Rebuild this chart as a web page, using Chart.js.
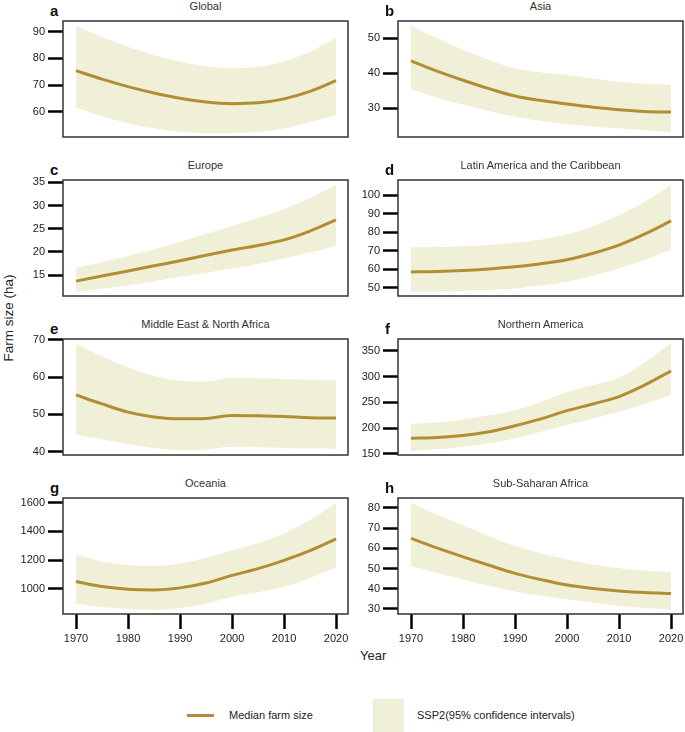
<!DOCTYPE html>
<html lang="en">
<head>
<meta charset="UTF-8" />
<title>Farm size by region</title>
<script src="https://cdn.jsdelivr.net/npm/chart.js"></script>
<style>
  body { margin: 0; background: #fff; font-family: "Liberation Sans", Arial, sans-serif; }
  #page { position: relative; width: 685px; height: 732px; overflow: hidden; }
  .panel { position: absolute; }
  .title { position: absolute; width: 285px; text-align: center; font-size: 11px; line-height: 13px; color: #333; }
  .letter { position: absolute; font-size: 15px; line-height: 15px; font-weight: bold; color: #111; }
  #ylabel { position: absolute; left: 8px; top: 318px; font-size: 13.5px; color: #222;
            transform: translate(-50%, -50%) rotate(-90deg); white-space: nowrap; }
  #xlabel { position: absolute; left: 360px; top: 648px; font-size: 13px; color: #222; }
  .legtext { position: absolute; font-size: 11px; line-height: 13px; color: #222; white-space: nowrap; }
</style>
</head>
<body>
<div id="page">
  <div id="ylabel">Farm size (ha)</div>
  <div id="xlabel">Year</div>
  <div style="position:absolute; left:187px; top:713.5px; width:27px; height:3px; background:#b08e34"></div>
  <div class="legtext" style="left:229px; top:708.5px">Median farm size</div>
  <div style="position:absolute; left:373px; top:699px; width:31px; height:33px; background:#f0f0d8"></div>
  <div class="legtext" style="left:417px; top:708.5px">SSP2(95% confidence intervals)</div>
</div>

<script>
    // Data
    const years = [1970, 1975, 1980, 1985, 1990, 1995, 2000, 2005, 2010, 2015, 2020];
    const yearTicks = [1970, 1980, 1990, 2000, 2010, 2020];

    const globalMedian = [75.4, 72.2, 69.4, 67.0, 65.0, 63.6, 63.0, 63.3, 64.8, 67.6, 71.6];
    const globalUpper  = [92.1, 88.0, 84.3, 81.2, 78.8, 77.0, 76.3, 76.8, 78.8, 82.5, 87.5];
    const globalLower  = [61.6, 58.3, 55.7, 53.8, 52.5, 52.0, 52.0, 52.4, 53.7, 56.0, 58.8];
    const globalTicks  = [60, 70, 80, 90];

    const asiaMedian = [43.5, 40.6, 38.0, 35.6, 33.5, 32.2, 31.2, 30.3, 29.6, 29.1, 28.9];
    const asiaUpper  = [53.5, 50.0, 46.7, 43.8, 41.4, 40.2, 39.5, 38.5, 37.6, 37.0, 36.7];
    const asiaLower  = [35.4, 33.0, 31.0, 29.2, 27.6, 26.4, 25.5, 24.8, 24.3, 23.7, 23.1];
    const asiaTicks  = [30, 40, 50];

    const europeMedian = [13.7, 14.8, 15.9, 17.0, 18.1, 19.3, 20.4, 21.4, 22.6, 24.5, 26.9];
    const europeUpper  = [16.6, 17.8, 19.1, 20.6, 22.2, 23.9, 25.6, 27.3, 29.2, 31.6, 34.4];
    const europeLower  = [11.4, 12.1, 12.8, 13.7, 14.6, 15.5, 16.4, 17.4, 18.6, 19.9, 21.3];
    const europeTicks  = [15, 20, 25, 30, 35];

    const latamMedian = [58.5, 58.7, 59.2, 60.1, 61.3, 62.9, 65.1, 68.6, 73.0, 79.0, 86.0];
    const latamUpper  = [71.8, 71.9, 72.3, 73.0, 74.2, 76.0, 78.8, 83.2, 89.2, 96.5, 105.4];
    const latamLower  = [47.8, 47.9, 48.2, 48.8, 49.6, 51.1, 53.2, 56.4, 60.4, 65.0, 70.3];
    const latamTicks  = [50, 60, 70, 80, 90, 100];

    const menaMedian = [55.2, 52.8, 50.6, 49.3, 48.8, 48.9, 49.7, 49.6, 49.4, 49.1, 49.0];
    const menaUpper  = [68.9, 65.5, 62.6, 60.3, 59.0, 58.8, 59.8, 59.7, 59.5, 59.3, 59.2];
    const menaLower  = [44.5, 43.3, 42.0, 41.0, 40.4, 40.6, 41.3, 41.2, 41.0, 40.9, 40.8];
    const menaTicks  = [40, 50, 60, 70];

    const namMedian = [180.6, 182, 185.8, 193, 204.6, 218, 234, 247, 261.4, 284, 311];
    const namUpper  = [208, 211, 217, 225, 235, 251, 270, 284, 298, 328, 365];
    const namLower  = [156, 159, 164, 171, 180, 193, 206, 219, 232, 247, 265];
    const namTicks  = [150, 200, 250, 300, 350];

    const oceaniaMedian = [1051, 1015, 996, 992, 1006, 1040, 1093, 1140, 1198, 1265, 1347];
    const oceaniaUpper  = [1237, 1190, 1165, 1160, 1176, 1215, 1268, 1318, 1385, 1480, 1598];
    const oceaniaLower  = [898, 872, 859, 853, 866, 895, 945, 975, 1014, 1075, 1148];
    const oceaniaTicks  = [1000, 1200, 1400, 1600];

    const ssaMedian = [64.9, 60.2, 55.8, 51.6, 47.6, 44.5, 41.8, 40.1, 38.9, 38.1, 37.7];
    const ssaUpper  = [82.5, 76.7, 71.4, 66.0, 61.1, 57.5, 54.5, 52.0, 50.1, 48.9, 48.4];
    const ssaLower  = [51.2, 47.8, 44.6, 41.5, 38.6, 36.5, 34.8, 33.1, 31.6, 30.5, 29.8];
    const ssaTicks  = [30, 40, 50, 60, 70, 80];

    // Panels
    const LINE = '#b08e34';
    const BAND = '#f0f0d8';
    const colLeft = [63, 398];
    const rowTop = [21, 180, 339, 498];
    const BOX_W = 285, BOX_H = 116;

    const panels = [
        { letter: 'a', title: 'Global', col: 0, row: 0, min: 50.5, max: 94, median: globalMedian, upper: globalUpper, lower: globalLower, ticks: globalTicks },
        { letter: 'b', title: 'Asia', col: 1, row: 0, min: 21.8, max: 54.9, median: asiaMedian, upper: asiaUpper, lower: asiaLower, ticks: asiaTicks },
        { letter: 'c', title: 'Europe', col: 0, row: 1, min: 10.5, max: 35.5, median: europeMedian, upper: europeUpper, lower: europeLower, ticks: europeTicks },
        { letter: 'd', title: 'Latin America and the Caribbean', col: 1, row: 1, min: 45.5, max: 108.1, median: latamMedian, upper: latamUpper, lower: latamLower, ticks: latamTicks },
        { letter: 'e', title: 'Middle East & North Africa', col: 0, row: 2, min: 39.1, max: 70.2, median: menaMedian, upper: menaUpper, lower: menaLower, ticks: menaTicks },
        { letter: 'f', title: 'Northern America', col: 1, row: 2, min: 148, max: 373, median: namMedian, upper: namUpper, lower: namLower, ticks: namTicks },
        { letter: 'g', title: 'Oceania', col: 0, row: 3, min: 824, max: 1632, median: oceaniaMedian, upper: oceaniaUpper, lower: oceaniaLower, ticks: oceaniaTicks },
        { letter: 'h', title: 'Sub-Saharan Africa', col: 1, row: 3, min: 27.5, max: 84.9, median: ssaMedian, upper: ssaUpper, lower: ssaLower, ticks: ssaTicks }
    ];

    Chart.defaults.font.family = '"Liberation Sans", Arial, sans-serif';

    const boxPlugin = {
        id: 'box',
        afterDraw(chart) {
            const { ctx, chartArea: a } = chart;
            ctx.save();
            ctx.strokeStyle = '#333';
            ctx.lineWidth = 1.5;
            ctx.strokeRect(a.left, a.top, a.right - a.left, a.bottom - a.top);
            ctx.restore();
        }
    };

    const pts = arr => years.map((x, i) => ({ x: x, y: arr[i] }));
    const page = document.getElementById('page');

    panels.forEach(p => {
        const left = colLeft[p.col], top = rowTop[p.row];
        const showX = p.row === 3;

        const title = document.createElement('div');
        title.className = 'title';
        title.style.left = left + 'px';
        title.style.top = (top - 21) + 'px';
        title.textContent = p.title;
        page.appendChild(title);

        const letter = document.createElement('div');
        letter.className = 'letter';
        letter.style.left = (left - 13) + 'px';
        letter.style.top = (top - 18) + 'px';
        letter.textContent = p.letter;
        page.appendChild(letter);

        const wrap = document.createElement('div');
        wrap.className = 'panel';
        wrap.style.left = (left - 63) + 'px';
        wrap.style.top = (top - 8) + 'px';
        wrap.style.width = (63 + BOX_W + 2) + 'px';
        wrap.style.height = (8 + BOX_H + (showX ? 36 : 3)) + 'px';
        const canvas = document.createElement('canvas');
        wrap.appendChild(canvas);
        page.appendChild(wrap);

        const yGrid = { drawOnChartArea: false, drawTicks: true, tickLength: 15, tickWidth: 2.5, tickColor: '#000' };
        const xGrid = { drawOnChartArea: false, drawTicks: showX, tickLength: 15, tickWidth: 2.5, tickColor: '#000' };
        const tickFont = { size: 11 };

        new Chart(canvas, {
            type: 'line',
            data: {
                datasets: [
                    { data: pts(p.upper), fill: '+1', backgroundColor: BAND, borderColor: 'rgba(0,0,0,0)', borderWidth: 0, pointRadius: 0, order: 2 },
                    { data: pts(p.lower), fill: false, borderColor: 'rgba(0,0,0,0)', borderWidth: 0, pointRadius: 0, order: 1 },
                    { data: pts(p.median), fill: false, borderColor: LINE, borderWidth: 3, pointRadius: 0, order: 0 }
                ]
            },
            options: {
                responsive: true,
                maintainAspectRatio: false,
                animation: false,
                layout: { autoPadding: false, padding: { top: 8, right: 2, bottom: showX ? 0 : 3, left: 0 } },
                elements: { line: { cubicInterpolationMode: 'monotone' } },
                plugins: { legend: { display: false }, tooltip: { enabled: false } },
                scales: {
                    x: {
                        type: 'linear', min: 1967.5, max: 2022.3,
                        afterBuildTicks: s => { s.ticks = yearTicks.map(v => ({ value: v })); },
                        afterFit: s => { s.height = showX ? 36 : 0; s.paddingLeft = 0; s.paddingRight = 0; },
                        grid: xGrid,
                        border: { display: false },
                        ticks: { display: showX, padding: 3, color: '#222', font: tickFont, maxRotation: 0, autoSkip: false, callback: v => String(v) }
                    },
                    y: {
                        min: p.min, max: p.max,
                        afterBuildTicks: s => { s.ticks = p.ticks.map(v => ({ value: v })); },
                        afterFit: s => { s.width = 63; s.paddingTop = 0; s.paddingBottom = 0; },
                        grid: yGrid,
                        border: { display: false },
                        ticks: { padding: 3, color: '#222', font: tickFont, autoSkip: false, callback: v => String(v) }
                    }
                }
            },
            plugins: [boxPlugin]
        });
    });
</script>
</body>
</html>
